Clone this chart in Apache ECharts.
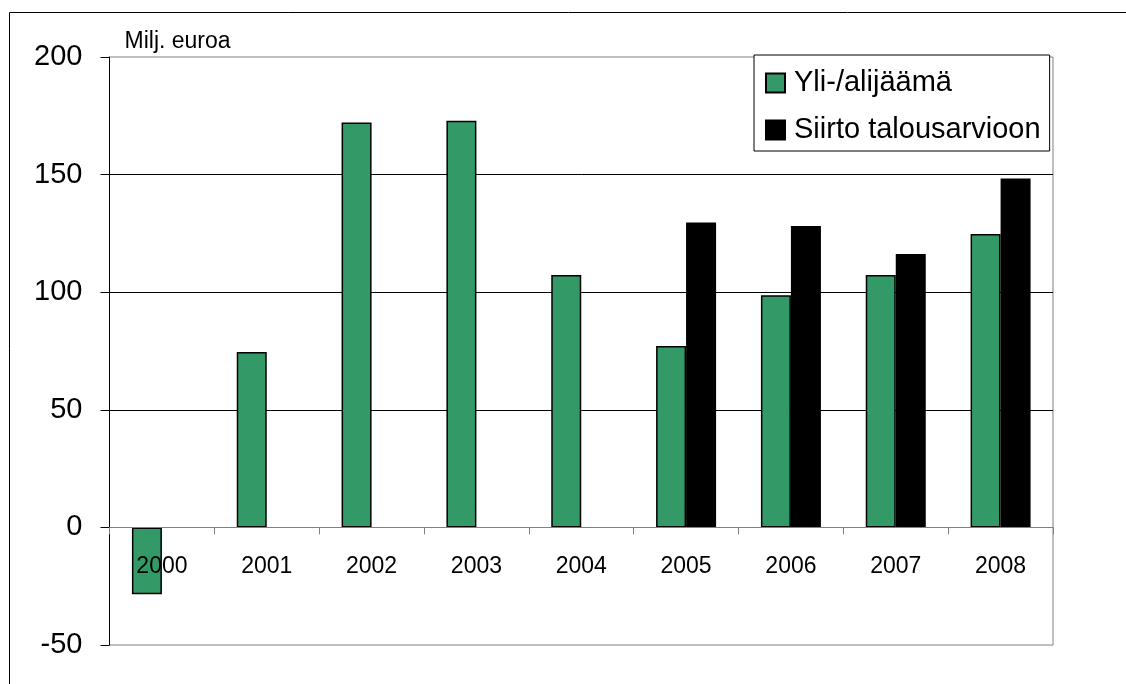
<!DOCTYPE html>
<html>
<head>
<meta charset="utf-8">
<script src="https://cdn.jsdelivr.net/npm/echarts@6/dist/echarts.min.js"></script>
<style>
  html, body { margin: 0; padding: 0; background: #fff; }
  #chart { width: 1126px; height: 684px; }
</style>
</head>
<body>
<div id="chart"></div>
<script>
// Vuosittaiset luvut, milj. euroa
const years = ['2000', '2001', '2002', '2003', '2004', '2005', '2006', '2007', '2008'];
const surplus = [-28.4, 74.6, 172.2, 172.9, 107.3, 77.1, 98.7, 107.3, 124.7];
const transfer = [null, null, null, null, null, 129.6, 128.1, 116.2, 148.3];
const seriesNames = ['Yli-/alijäämä', 'Siirto talousarvioon'];
const unitLabel = 'Milj. euroa';

const FONT = '"Liberation Sans", Arial, sans-serif';

const chart = echarts.init(document.getElementById('chart'), null, { renderer: 'canvas' });

chart.setOption({
  animation: false,
  backgroundColor: '#ffffff',
  textStyle: { fontFamily: FONT, color: '#000' },
  graphic: [{
    type: 'rect',
    shape: { x: 9.5, y: 12.5, width: 1200, height: 700 },
    style: { fill: 'none', stroke: '#000', lineWidth: 1 },
    silent: true
  }],
  grid: {
    left: 109.5, right: 73, top: 57, bottom: 39,
    outerBoundsMode: 'none',
    show: true, borderColor: '#808080', borderWidth: 1, backgroundColor: 'transparent'
  },
  legend: {
    orient: 'vertical',
    left: 754, top: 55,
    padding: [13, 9, 6, 11],
    itemGap: 17,
    itemWidth: 19, itemHeight: 19,
    icon: 'rect',
    backgroundColor: '#fff',
    borderColor: '#000', borderWidth: 1,
    textStyle: { fontFamily: FONT, fontSize: 29, lineHeight: 30, color: '#000', padding: [0, 0, 0, 4] },
    data: seriesNames
  },
  xAxis: {
    type: 'category',
    data: years,
    z: 3,
    axisLine: { onZero: true, lineStyle: { color: '#808080', width: 1 } },
    axisTick: { show: true, length: 7, lineStyle: { color: '#808080' } },
    // year labels sit just under the zero line, drawn over the bars
    axisLabel: { fontFamily: FONT, fontSize: 23, color: '#000', margin: -90 },
    splitLine: { show: false }
  },
  yAxis: {
    type: 'value',
    min: -50, max: 200, interval: 50,
    name: unitLabel,
    nameLocation: 'end',
    nameGap: 4,
    nameTextStyle: { fontFamily: FONT, fontSize: 23, color: '#000', align: 'left', verticalAlign: 'bottom', padding: [0, 0, 0, 15] },
    axisLine: { show: true, lineStyle: { color: '#000', width: 1 } },
    axisTick: { show: true, inside: false, length: 9, lineStyle: { color: '#000' } },
    axisLabel: { fontFamily: FONT, fontSize: 29, color: '#000', margin: 27 },
    splitLine: { show: true, showMinLine: false, showMaxLine: false, lineStyle: { color: '#000', width: 1 } }
  },
  series: [
    {
      name: seriesNames[0],
      type: 'bar',
      data: surplus,
      barWidth: 30,
      barGap: '0%',
      z: 2,
      itemStyle: { color: '#339966', borderColor: '#000', borderWidth: 1.5 }
    },
    {
      name: seriesNames[1],
      type: 'bar',
      data: transfer,
      barWidth: 30,
      barGap: '0%',
      z: 2,
      itemStyle: { color: '#000000', borderColor: '#000', borderWidth: 1.5 }
    }
  ]
});
</script>
</body>
</html>
